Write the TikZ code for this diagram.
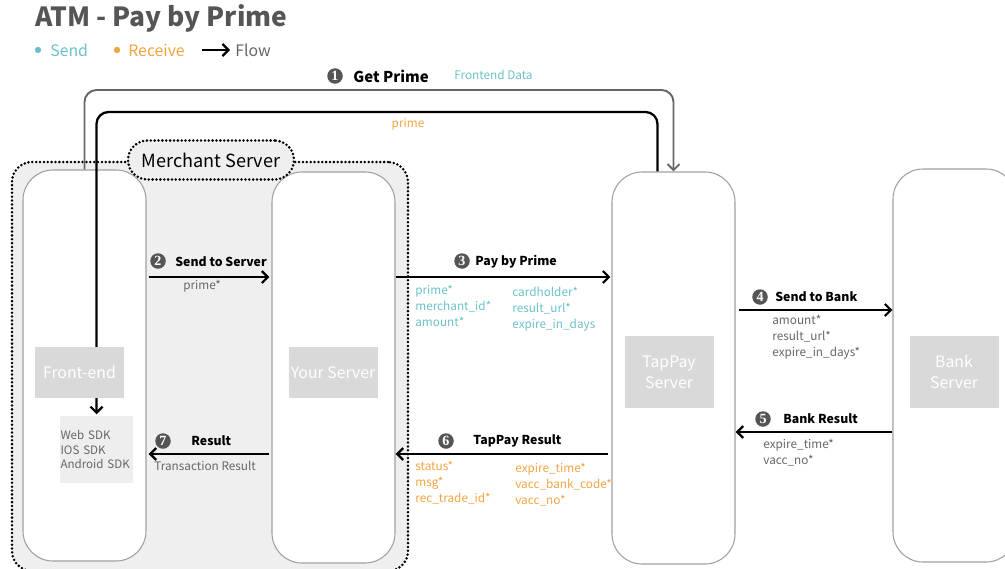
\documentclass[tikz,border=0pt]{standalone}
\usepackage{fontspec}
\setmainfont{Noto Sans CJK TC}
\newfontfamily\ziffer{Liberation Serif}
\usetikzlibrary{positioning,fit,arrows.meta}

\definecolor{grau}{RGB}{102,102,102}
\definecolor{dunkel}{RGB}{85,85,85}
\definecolor{senden}{RGB}{108,192,202}
\definecolor{empfang}{RGB}{242,164,64}
\definecolor{flaeche}{RGB}{240,239,240}
\definecolor{kasten}{RGB}{217,217,217}
\definecolor{sdkgrau}{RGB}{238,238,238}
\definecolor{rand}{RGB}{160,160,160}

\tikzset{
	spalte/.style={draw=rand, fill=white, line width=0.6pt, rounded corners=6mm, inner sep=0pt},
	punkte/.style={draw, fill=flaeche, line width=1.6pt, line cap=round, dash pattern=on 0pt off 2.2pt},
	etikett/.style={fill=kasten, text=white, align=center, inner sep=0pt,
		minimum width=17.8mm, font=\fontsize{9}{12}\selectfont},
	nummer/.style={circle, fill=dunkel, text=white, inner sep=0pt, minimum size=3.1mm,
		font=\ziffer\bfseries\fontsize{8}{8}\selectfont},
	schritt/.style={anchor=west, inner sep=0pt, font=\bfseries\fontsize{7}{9}\selectfont},
	daten/.style={anchor=north west, align=left, inner sep=0pt, font=\fontsize{6.7}{9.1}\selectfont},
	fluss/.style={line width=1.3pt, ->},
}

% number circle and step title
\def\schritt#1#2#3#4#5{
	\node[nummer] (#1n) at #2 {#3};
	\node[schritt] (#1) at #4 {#5};
}

\begin{document}
\begin{tikzpicture}[x=0.2mm,y=-0.2mm,>={Straight Barb[length=1.2mm,width=2.4mm]}]

\useasboundingbox (0,0) rectangle (1005,568);

% title and legend
\node[anchor=west, inner sep=0pt, text=dunkel, font=\bfseries\fontsize{15}{18}\selectfont] (titel) at (35,18) {ATM - Pay by Prime};
\fill[senden] (38,50) circle (3.2);
\node[anchor=west, inner sep=0pt, text=senden, font=\fontsize{9}{11}\selectfont] (send) at (50,50) {Send};
\fill[empfang] (117,50) circle (3.2);
\node[anchor=west, inner sep=0pt, text=empfang, font=\fontsize{9}{11}\selectfont] (receive) at (128,50) {Receive};
\node[anchor=west, inner sep=0pt, text=grau, font=\fontsize{9}{11}\selectfont] (flow) at (235,50) {Flow};
\coordinate (leg) at (202,50);
\draw[fluss] (leg) -- ([xshift=-1mm]flow.west);

% merchant area and columns
\node[punkte, rounded corners=4mm, inner sep=0pt, fit={(12,162) (408,571)}] (ms) {};

\node[spalte, fit={(23,170) (146,561)}] (fe) {};
\node[spalte, fit={(272,172) (395,563)}] (ys) {};
\node[spalte, fit={(612,172) (735,564)}] (tp) {};
\node[spalte, fit={(893,169) (1016,562)}] (bk) {};

\node[punkte, rounded corners=3.9mm, minimum width=33.2mm, minimum height=7.8mm, inner sep=0pt,
	font=\fontsize{10.3}{12}\selectfont] (tag) at (211,160) {Merchant Server};

% get prime
\coordinate (h0) at (400,90);
\coordinate (h1) at (400,112);
\draw[line width=1.1pt, draw=grau, ->, rounded corners=2.4mm] (fe.north) |- (h0) -| (tp.north);
\draw[line width=1.3pt, ->, rounded corners=2.4mm, shorten >=1pt] ([xshift=-3.2mm]tp.north) |- (h1) -| (96.5,416);

% boxes
\node[etikett, minimum height=10.2mm] (fel) at (79.5,372.5) {Front-end};
\node[etikett, minimum height=10.2mm] (ysl) at (333,372.5) {Your Server};
\node[etikett, minimum height=14.4mm] (tpl) at (669,372) {TapPay\\Server};
\node[etikett, minimum height=14.4mm] (bkl) at (954,372) {Bank\\Server};
\node[fill=sdkgrau, text=grau, align=left, text width=14.4mm, inner xsep=0.1mm, inner ysep=0pt,
	minimum height=13.4mm, font=\fontsize{6.6}{8.5}\selectfont] (sdk) at (96.5,449.5) {Web SDK\\IOS SDK\\Android SDK};

% steps
\schritt{s1}{(335,76)}{1}{(353,76)}{\fontsize{8.5}{10}\selectfont Get Prime}
\schritt{s2}{(158,261)}{2}{(175,262)}{Send to Server}
\schritt{s3}{(462,261)}{3}{(475,262)}{Pay by Prime}
\schritt{s4}{(760,297)}{4}{(775,297)}{Send to Bank}
\schritt{s5}{(763,419)}{5}{(783,419)}{Bank Result}
\schritt{s6}{(446,441)}{6}{(473,441)}{TapPay Result}
\schritt{s7}{(163,441)}{7}{(191,441)}{Result}

\coordinate (r2) at (0,277);
\coordinate (r4) at (0,310);
\coordinate (r5) at (0,432);
\coordinate (r6) at (0,454);

\draw[fluss] ([xshift=0.4mm]fe.east |- r2) -- ([xshift=-0.4mm]ys.west |- r2);
\draw[fluss] (ys.east |- r2) -- ([xshift=-0.2mm]tp.west |- r2);
\draw[fluss] ([xshift=0.6mm]tp.east |- r4) -- (bk.west |- r4);
\draw[fluss] (bk.west |- r5) -- (tp.east |- r5);
\draw[fluss] ([xshift=-0.6mm]tp.west |- r6) -- (ys.east |- r6);
\draw[fluss] ([xshift=-0.4mm]ys.west |- r6) -- ([xshift=0.4mm]fe.east |- r6);

% data
\node[daten, anchor=west, text=senden] (fd) at (454,75) {Frontend Data};
\node[daten, anchor=center, text=empfang] (pr) at (408,124) {prime};
\node[daten, anchor=west, text=grau] (d2) at (183,286) {prime*};
\node[daten, text=senden] (d3a) at (415,285) {prime*\\merchant\_id*\\amount*};
\node[daten, text=senden] (d3b) at (512,287) {cardholder*\\result\_url*\\expire\_in\_days};
\node[daten, text=grau] (d4) at (772,315) {amount*\\result\_url*\\expire\_in\_days*};
\node[daten, text=grau] (d5) at (763,439) {expire\_time*\\vacc\_no*};
\node[daten, text=empfang] (d6a) at (415,461) {status*\\msg*\\rec\_trade\_id*};
\node[daten, text=empfang] (d6b) at (515,463) {expire\_time*\\vacc\_bank\_code*\\vacc\_no*};
\node[daten, anchor=west, text=grau] (d7) at (154,466) {Transaction Result};

\end{tikzpicture}
\end{document}
